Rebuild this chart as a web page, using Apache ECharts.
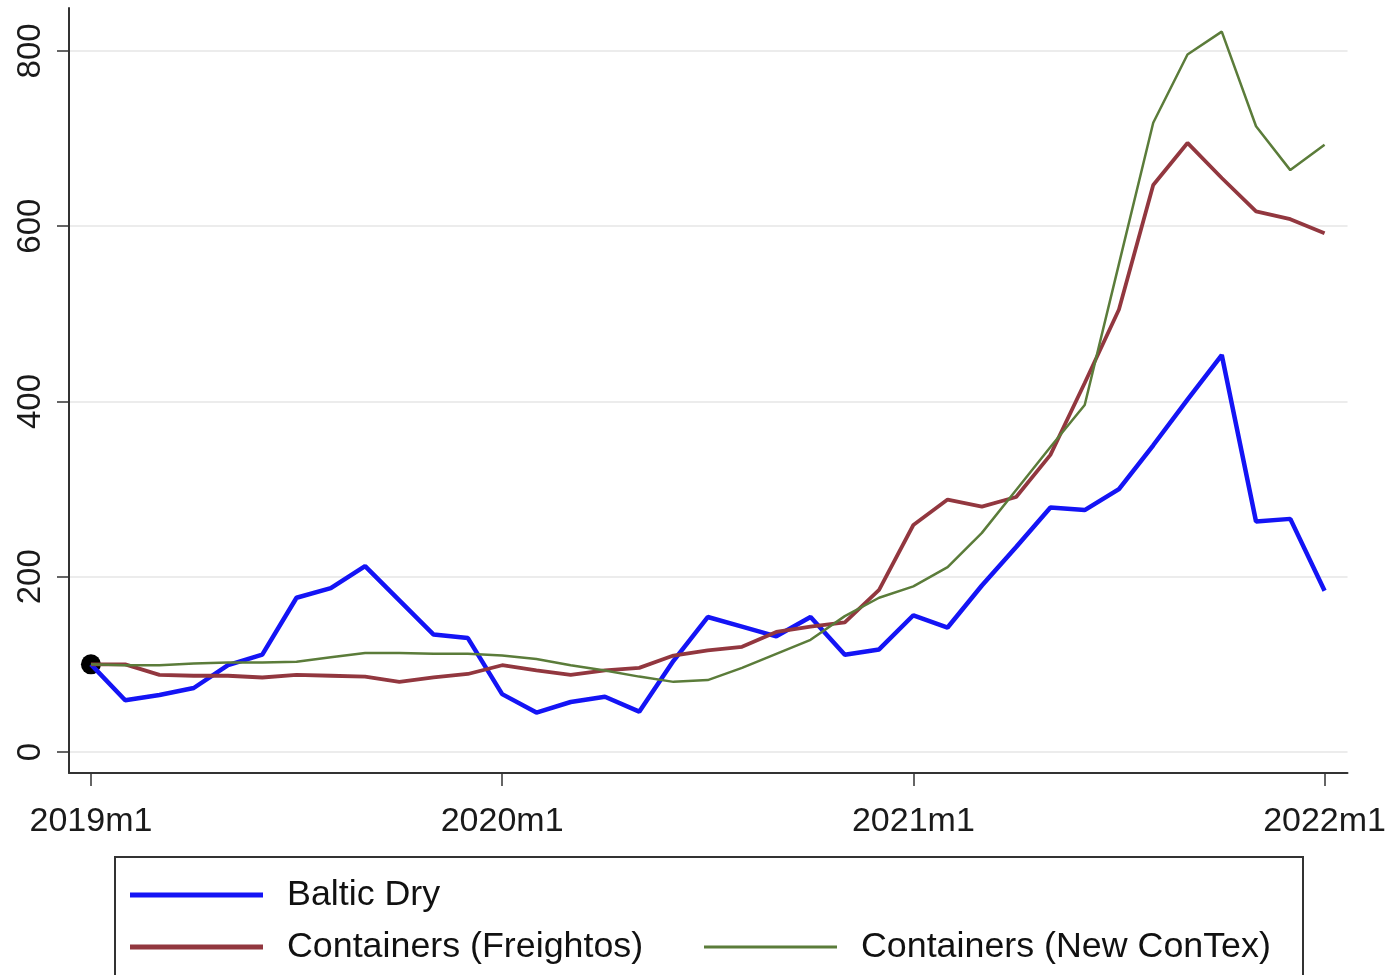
<!DOCTYPE html>
<html>
<head>
<meta charset="utf-8">
<title>Shipping rates index</title>
<script src="https://cdn.jsdelivr.net/npm/echarts@6/dist/echarts.min.js"></script>
<style>
  html, body { margin: 0; padding: 0; background: #ffffff; }
  #chart { width: 1389px; height: 975px; }
</style>
</head>
<body>
<div id="chart"></div>
<script>
// Monthly index values, 2019m1 = 100 (month 0 = 2019m1 ... month 36 = 2022m1)
const balticDry = [100, 59, 65, 73, 99, 111, 176, 187, 212, 173, 134, 130,
                   66, 45, 57, 63, 46, 104, 154, 143, 132, 154, 111, 117,
                   156, 142, 190, 234, 279, 276, 300, 350, 402, 453, 263, 266,
                   184];
const freightos = [100, 100, 88, 87, 87, 85, 88, 87, 86, 80, 85, 89,
                   99, 93, 88, 93, 96, 110, 116, 120, 137, 143, 148, 185,
                   259, 288, 280, 291, 339, 421, 505, 647, 695, 655, 617, 608,
                   592];
const newContex = [100, 99, 99, 101, 102, 102, 103, 108, 113, 113, 112, 112,
                   110, 106, 99, 93, 86, 80, 82, 96, 112, 128, 155, 176,
                   189, 211, 250, 299, 348, 396, 557, 718, 796, 822, 714, 664,
                   693];
const baseMonth = [[0, 100]];

const tickMonths = [0, 12, 24, 36];
const tickLabels = ['2019m1', '2020m1', '2021m1', '2022m1'];
const yTicks = [0, 200, 400, 600, 800];

const seriesNames = ['Baltic Dry', 'Containers (Freightos)', 'Containers (New ConTex)'];
const seriesColors = ['#1414f5', '#92373f', '#5b7c3a'];
const seriesWidths = [4.5, 3.8, 2.5];

const FONT = '"Liberation Sans", Arial, sans-serif';

const toPairs = arr => arr.map((v, i) => [i, v]);
const lineSeries = [balticDry, freightos, newContex].map((arr, k) => ({
  name: seriesNames[k],
  type: 'line',
  data: toPairs(arr),
  showSymbol: false,
  symbol: 'none',
  lineStyle: { color: seriesColors[k], width: seriesWidths[k] },
  itemStyle: { color: seriesColors[k] },
  emphasis: { disabled: true },
  animation: false
}));

// Legend: one block per entry so the layout has Baltic Dry alone on the first row
const legendTops = [870, 922, 922];
const legendLefts = [125, 125, 699];
const legendKeyHeights = [5, 5, 3];
const legends = seriesNames.map((n, k) => ({
  data: [{ name: n, icon: 'rect' }],
  left: legendLefts[k],
  top: legendTops[k],
  itemWidth: 133,
  itemHeight: legendKeyHeights[k],
  selectedMode: false,
  textStyle: {
    fontFamily: FONT, fontSize: 35.8, color: '#111', lineHeight: 40,
    padding: [0, 0, 0, 19]
  }
}));

const chart = echarts.init(document.getElementById('chart'), null, { renderer: 'canvas' });
chart.setOption({
  backgroundColor: '#ffffff',
  animation: false,
  grid: { left: 69, right: 39, top: 8, bottom: 202, containLabel: false },
  xAxis: {
    type: 'value',
    min: -0.64,
    max: 36.67,
    axisLine: { show: true, onZero: false, lineStyle: { color: '#333', width: 2 } },
    axisTick: { show: true, length: 13, customValues: tickMonths, lineStyle: { color: '#333', width: 1.5 } },
    axisLabel: {
      customValues: tickMonths,
      formatter: v => tickLabels[tickMonths.indexOf(v)] || '',
      fontFamily: FONT, fontSize: 34, color: '#1a1a1a', margin: 32
    },
    splitLine: { show: false }
  },
  yAxis: {
    type: 'value',
    min: -24,
    max: 849,
    axisLine: { show: true, onZero: false, lineStyle: { color: '#333', width: 2 } },
    axisTick: { show: true, length: 12, customValues: yTicks, lineStyle: { color: '#333', width: 1.5 } },
    axisLabel: {
      customValues: yTicks,
      rotate: 90,
      fontFamily: FONT, fontSize: 33, color: '#1a1a1a', margin: 22
    },
    splitLine: { show: true, lineStyle: { color: '#ececec', width: 2 } }
  },
  legend: legends,
  graphic: [{
    type: 'rect',
    shape: { x: 115, y: 857, width: 1188, height: 140 },
    style: { fill: 'none', stroke: '#333', lineWidth: 2 },
    silent: true
  }],
  series: [{
    name: 'base',
    type: 'scatter',
    data: baseMonth,
    symbolSize: 20,
    itemStyle: { color: '#000', opacity: 1 },
    emphasis: { disabled: true },
    animation: false
  }].concat(lineSeries)
});
</script>
</body>
</html>
